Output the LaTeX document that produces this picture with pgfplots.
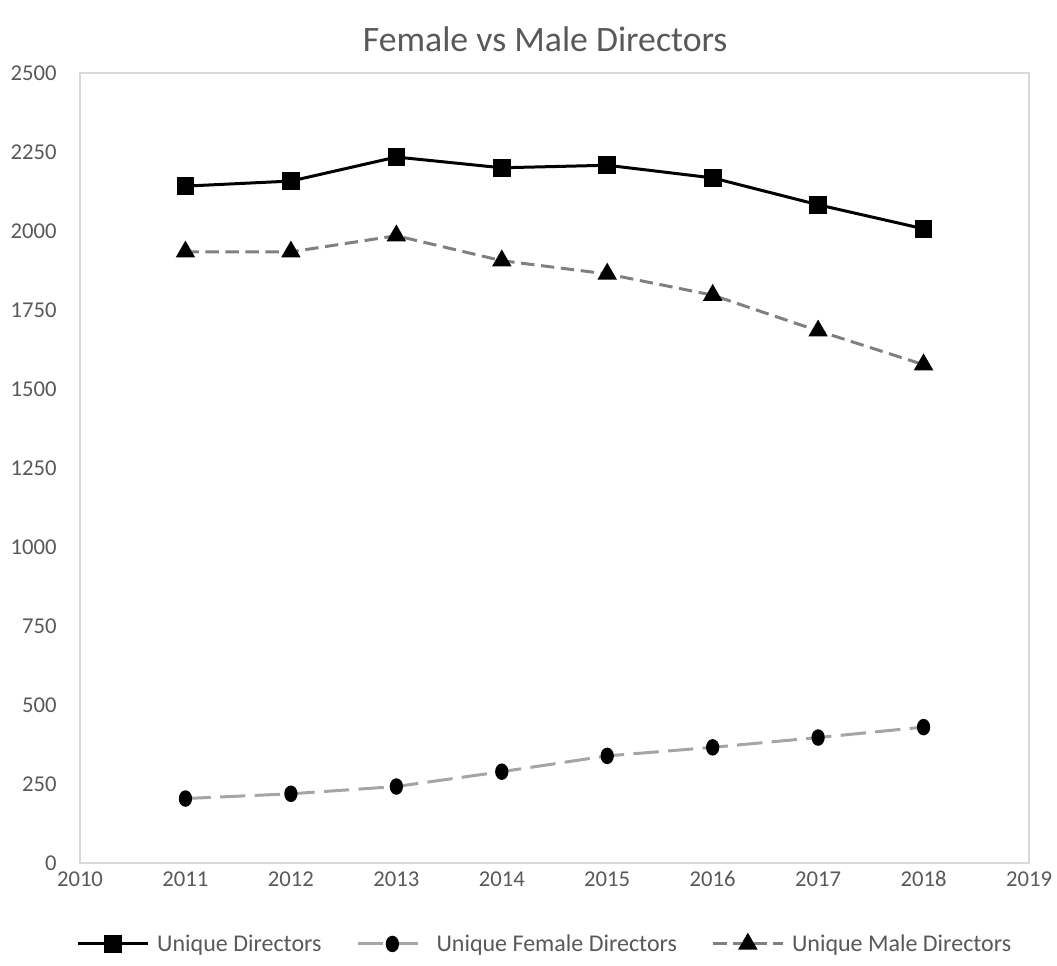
\documentclass[border=0pt]{standalone}
\usepackage{pgfplots}
\pgfplotsset{compat=1.18}
\usepackage{fontspec}
\setmainfont{Carlito}
\definecolor{txt}{HTML}{595959}
\definecolor{axl}{HTML}{D9D9D9}
\definecolor{male}{HTML}{808080}
\definecolor{female}{HTML}{A5A5A5}
\begin{document}
\begin{tikzpicture}
\begin{axis}[
  scale only axis,
  width=711.75pt, height=592.5pt,
  xmin=2010, xmax=2019, ymin=0, ymax=2500,
  xtick={2010,2011,...,2019},
  ytick={0,250,...,2500},
  xticklabel style={/pgf/number format/1000 sep={}},
  yticklabel style={/pgf/number format/1000 sep={}},
  /pgf/number format/assume math mode=true,
  tick style={draw=none},
  axis line style={draw=axl, line width=1.2pt},
  ticklabel style={font=\fontsize{17}{20}\selectfont, text=txt, text height=11pt, text depth=0pt},
  xticklabel style={yshift=-3pt},
  yticklabel style={xshift=-14pt},
  title={Female vs Male Directors},
  title style={font=\fontsize{26.8}{31}\selectfont, text=txt, at={(0.5,1)}, anchor=center, yshift=19pt, xshift=-7pt},
  legend style={at={(0.489,-0.1025)}, anchor=center, draw=none, legend columns=3,
    font=\fontsize{18}{21}\selectfont, text=txt, inner sep=0pt,
    nodes={inner sep=0pt},
    /tikz/every odd column/.append style={column sep=6pt},
    /tikz/every even column/.append style={column sep=26pt}},
  legend image code/.code={
    \draw[#1] (0pt,0pt) -- (52pt,0pt);
    \draw[#1, solid] plot coordinates {(26pt,0pt)};},
  clip=false,
]
\addplot[black, line width=2.25pt, mark=square*, mark size=5.5pt, mark options={solid, fill=black}]
  coordinates {(2011,2142) (2012,2158) (2013,2234) (2014,2200) (2015,2208) (2016,2168) (2017,2083) (2018,2007)};
\addlegendentry{Unique Directors}
\addplot[female, line width=2.25pt, dash pattern=on 19pt off 7pt, mark=*, mark size=4.8pt, mark options={solid, fill=black, draw=black, xscale=0.8, yscale=1.05}]
  coordinates {(2011,204) (2012,219) (2013,242) (2014,289) (2015,339) (2016,366) (2017,397) (2018,430)};
\addlegendentry{Unique Female Directors}
\addplot[male, line width=2.25pt, dash pattern=on 10pt off 5pt, mark=triangle*, mark size=6.2pt, mark options={solid, fill=black, draw=black}]
  coordinates {(2011,1934) (2012,1934) (2013,1985) (2014,1906) (2015,1864) (2016,1797) (2017,1684) (2018,1577)};
\addlegendentry{Unique Male Directors}
\useasboundingbox (rel axis cs:0,0) ++(-60pt,-77.25pt) rectangle (rel axis cs:0,0) ++(732.75pt,647.25pt);
\end{axis}
\end{tikzpicture}
\end{document}
